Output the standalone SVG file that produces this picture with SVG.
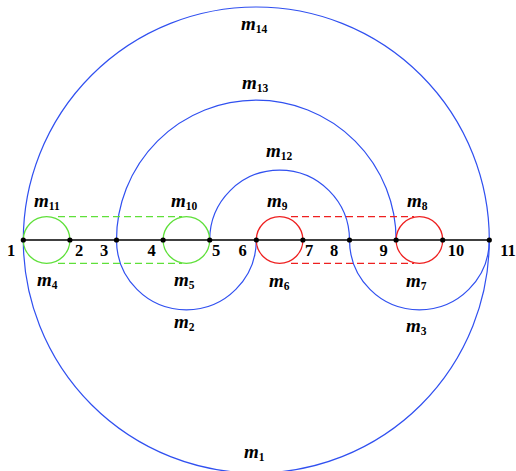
<svg xmlns="http://www.w3.org/2000/svg" width="516" height="471" viewBox="0 0 516 471">
<style>
.b{fill:none;stroke:#3050f0;stroke-width:1.2}
.g{fill:none;stroke:#5fe03a;stroke-width:1.3}
.r{fill:none;stroke:#ee2020;stroke-width:1.3}
.gd{fill:none;stroke:#5fe03a;stroke-width:1.3;stroke-dasharray:7 4}
.rd{fill:none;stroke:#ee2020;stroke-width:1.3;stroke-dasharray:7 4}
.ax{stroke:#000;stroke-width:1.3}
.pt{fill:#000}
.n{font-family:"Liberation Serif",serif;font-weight:bold;font-size:16.5px;text-anchor:middle;fill:#000}
.m{font-family:"Liberation Serif",serif;font-weight:bold;font-style:italic;font-size:19px;fill:#000}
.s{font-style:normal;font-size:11.5px}
</style>
<g id="connectors">
<circle class="b" cx="256.3" cy="240" r="233"/>
<path class="b" d="M116.5,240 A139.8,139.8 0 0 1 396.1,240"/>
<path class="b" d="M209.7,240 A69.9,69.9 0 0 1 349.5,240"/>
<path class="b" d="M116.5,240 A69.9,69.9 0 0 0 256.3,240"/>
<path class="b" d="M349.5,240 A69.9,69.9 0 0 0 489.3,240"/>
<circle class="g" cx="46.6" cy="240" r="23.3"/>
<circle class="g" cx="186.4" cy="240" r="23.3"/>
<circle class="r" cx="279.6" cy="240" r="23.3"/>
<circle class="r" cx="419.4" cy="240" r="23.3"/>
<path class="gd" d="M58,216.7 H182 M58,263.3 H182"/>
<path class="rd" d="M291,216.7 H414 M291,263.3 H414"/>
<line class="ax" x1="23.3" y1="240" x2="489.3" y2="240"/>
</g>
<g id="points">
<circle class="pt" cx="23.3" cy="240" r="2.6"/>
<circle class="pt" cx="69.9" cy="240" r="2.6"/>
<circle class="pt" cx="116.5" cy="240" r="2.6"/>
<circle class="pt" cx="163.1" cy="240" r="2.6"/>
<circle class="pt" cx="209.7" cy="240" r="2.6"/>
<circle class="pt" cx="256.3" cy="240" r="2.6"/>
<circle class="pt" cx="302.9" cy="240" r="2.6"/>
<circle class="pt" cx="349.5" cy="240" r="2.6"/>
<circle class="pt" cx="396.1" cy="240" r="2.6"/>
<circle class="pt" cx="442.7" cy="240" r="2.6"/>
<circle class="pt" cx="489.3" cy="240" r="2.6"/>
</g>
<g id="numbers">
<text class="n" x="11" y="255.5">1</text>
<text class="n" x="79" y="255.5">2</text>
<text class="n" x="104" y="255.5">3</text>
<text class="n" x="151.5" y="255.5">4</text>
<text class="n" x="216" y="255.5">5</text>
<text class="n" x="242.5" y="255.5">6</text>
<text class="n" x="309" y="255.5">7</text>
<text class="n" x="334" y="255.5">8</text>
<text class="n" x="383.5" y="255.5">9</text>
<text class="n" x="456" y="255.5">10</text>
<text class="n" x="508" y="255.5">11</text>
</g>
<g id="regions">
<text id="m1" class="m" x="244" y="458">m<tspan class="s" dy="3">1</tspan></text>
<text id="m2" class="m" x="174" y="328">m<tspan class="s" dy="3">2</tspan></text>
<text id="m3" class="m" x="406" y="332">m<tspan class="s" dy="3">3</tspan></text>
<text id="m4" class="m" x="37" y="286">m<tspan class="s" dy="3">4</tspan></text>
<text id="m5" class="m" x="174" y="286">m<tspan class="s" dy="3">5</tspan></text>
<text id="m6" class="m" x="269" y="287">m<tspan class="s" dy="3">6</tspan></text>
<text id="m7" class="m" x="406" y="287">m<tspan class="s" dy="3">7</tspan></text>
<text id="m8" class="m" x="407" y="207">m<tspan class="s" dy="3">8</tspan></text>
<text id="m9" class="m" x="267" y="207">m<tspan class="s" dy="3">9</tspan></text>
<text id="m10" class="m" x="171" y="207">m<tspan class="s" dy="3">10</tspan></text>
<text id="m11" class="m" x="34" y="207">m<tspan class="s" dy="3">11</tspan></text>
<text id="m12" class="m" x="266" y="157">m<tspan class="s" dy="3">12</tspan></text>
<text id="m13" class="m" x="242" y="89">m<tspan class="s" dy="3">13</tspan></text>
<text id="m14" class="m" x="241" y="30">m<tspan class="s" dy="3">14</tspan></text>
</g>
</svg>
